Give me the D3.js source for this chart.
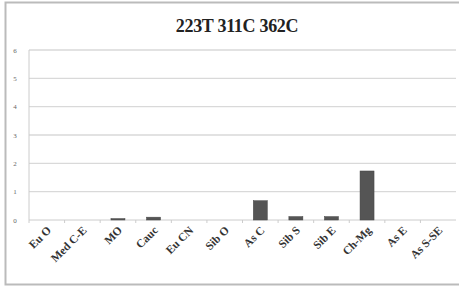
<!DOCTYPE html>
<html><head><meta charset="utf-8">
<script src="https://cdn.jsdelivr.net/npm/d3@7"></script>
<style>body{margin:0;background:#fff}</style>
</head><body>
<svg id="c" width="459" height="286"></svg>
<script>
const categories = ["Eu O","Med C-E","MO","Cauc","Eu CN","Sib O","As C","Sib S","Sib E","Ch-Mg","As E","As S-SE"];
const values = [0,0,0.05,0.1,0,0,0.68,0.12,0.12,1.73,0,0];
const yTicks = [0,1,2,3,4,5,6];
const title = "223T 311C 362C";

const svg = d3.select("#c");
svg.append("rect").attr("x",5.5).attr("y",2.5).attr("width",460).attr("height",282)
  .attr("fill","#fff").attr("stroke","#bbb").attr("stroke-width",2);

const m = {l:29, r:456, t:50, b:220};
const xb = d3.scaleBand().domain(categories).range([m.l,m.r]);
const y = d3.scaleLinear().domain([0,6]).range([m.b,m.t]);

svg.append("g").selectAll("line").data(yTicks.slice(1)).join("line")
  .attr("x1",m.l).attr("x2",m.r).attr("y1",d=>y(d)).attr("y2",d=>y(d))
  .attr("stroke","#d9d9d9").attr("stroke-width",1.3);

svg.append("line").attr("x1",m.l).attr("x2",m.l).attr("y1",m.t).attr("y2",m.b).attr("stroke","#ccc");
svg.append("line").attr("x1",m.l).attr("x2",m.r).attr("y1",m.b).attr("y2",m.b).attr("stroke","#ccc");

svg.append("g").selectAll("line").data(categories).join("line")
  .attr("x1",d=>xb(d)).attr("x2",d=>xb(d)).attr("y1",m.b).attr("y2",m.b+3).attr("stroke","#ccc");

svg.append("g").selectAll("text").data(yTicks).join("text")
  .attr("x",15).attr("y",d=>y(d)+2.5).attr("text-anchor","middle")
  .attr("font-family","Liberation Serif").attr("font-size",7).attr("fill","#666").text(d=>d);

svg.append("g").selectAll("rect").data(categories).join("rect")
  .attr("x",d=>xb(d)+xb.bandwidth()/2-7).attr("width",14)
  .attr("y",(d,i)=>y(values[i])).attr("height",(d,i)=>m.b-y(values[i]))
  .attr("fill","#555").attr("stroke","#444").attr("stroke-width",0.5);

svg.append("g").selectAll("text").data(categories).join("text")
  .attr("transform",d=>`translate(${xb(d)+xb.bandwidth()/2+5},${m.b+11}) rotate(-45)`)
  .attr("text-anchor","end").attr("font-family","Liberation Serif").attr("font-weight","bold")
  .attr("font-size",11.5).attr("fill","#333").text(d=>d);

svg.append("text").attr("x",237).attr("y",32).attr("text-anchor","middle")
  .attr("font-family","Liberation Serif").attr("font-weight","bold").attr("font-size",18)
  .attr("fill","#222").attr("letter-spacing",-0.3).text(title);
</script>
</body></html>
